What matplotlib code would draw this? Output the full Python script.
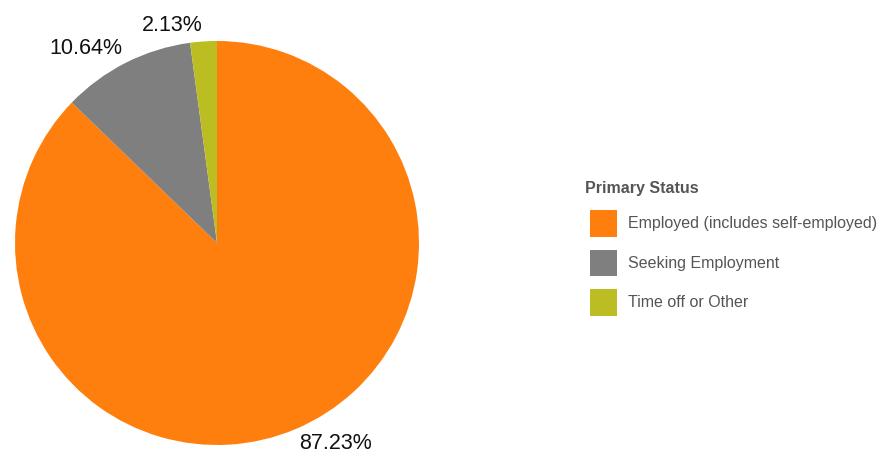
import matplotlib
matplotlib.use("Agg")
import matplotlib.pyplot as plt
from matplotlib.patches import Patch

categories = ["Employed (includes self-employed)", "Seeking Employment", "Time off or Other"]
values = [87.23, 10.64, 2.13]
colors = ["#ff7f0e", "#7f7f7f", "#bcbd22"]
legend_title = "Primary Status"

plt.rcParams['font.family'] = ['Liberation Sans', 'DejaVu Sans']

W, H = 878, 461
fig = plt.figure(figsize=(W / 100, H / 100), dpi=100)
cx, cy, r = 217, 243, 202
ax = fig.add_axes([(cx - r) / W, (H - cy - r) / H, 2 * r / W, 2 * r / H])
labels = [f"{v:.2f}%" for v in values]
wedges, texts = ax.pie(values, colors=colors, labels=labels, startangle=90,
                       counterclock=False, radius=1, labeldistance=1.08,
                       textprops=dict(fontsize=15.5, color="#111111"),
                       wedgeprops=dict(linewidth=0))
ax.set_xlim(-1, 1)
ax.set_ylim(-1, 1)
ax.set_aspect('equal')
ax.axis('off')
for t in texts:
    t.set_clip_on(False)
    x, y = t.get_position()
    t.set_position((x * 0.965, y))

fig.text(585 / W, (H - 188) / H, legend_title, fontsize=11.5, fontweight='bold',
         color="#555555", ha='left', va='center')
handles = [Patch(facecolor=c, edgecolor='none') for c in colors]
leg = fig.legend(handles, categories, loc='upper left',
                 bbox_to_anchor=(590 / W, (H - 210) / H), frameon=False,
                 fontsize=11.5, handlelength=1.7, handleheight=2.2,
                 labelspacing=0.8, handletextpad=0.65, borderaxespad=0, borderpad=0)
for t in leg.get_texts():
    t.set_color("#555555")

fig.savefig("out.png", dpi=100)
